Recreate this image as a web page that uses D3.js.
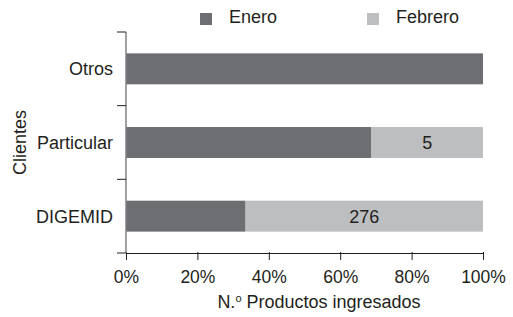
<!DOCTYPE html>
<html>
<head>
<meta charset="utf-8">
<script src="https://cdn.jsdelivr.net/npm/d3@7"></script>
<style>
  body { margin: 0; background: #fff; }
  svg { display: block; font-family: "Liberation Sans", Arial, sans-serif; }
</style>
</head>
<body>
<div id="chart"></div>
<script>
const clientes = ["Otros", "Particular", "DIGEMID"];
const series = ["Enero", "Febrero"];
const enero = [1, 11, 139];
const febrero = [0, 5, 276];
const ticks = [0, 0.2, 0.4, 0.6, 0.8, 1];

const width = 513, height = 317;
const margin = { left: 126, right: 30, top: 32, bottom: 64 };
const colors = ["#6d6e71", "#bcbec0"];

const svg = d3.select("#chart").append("svg")
  .attr("width", width)
  .attr("height", height);

const rows = clientes.map((c, i) => {
  const total = enero[i] + febrero[i];
  return { cliente: c, Enero: enero[i] / total, Febrero: febrero[i] / total, febVal: febrero[i] };
});

const stacked = d3.stack().keys(series)(rows);

const x = d3.scaleLinear()
  .domain([0, 1])
  .range([margin.left, width - margin.right]);

const y = d3.scaleBand()
  .domain(clientes)
  .range([margin.top, height - margin.bottom])
  .paddingInner(0.58)
  .paddingOuter(0.29);

// barras
svg.append("g")
  .selectAll("g")
  .data(stacked)
  .join("g")
  .attr("fill", (d, i) => colors[i])
  .selectAll("rect")
  .data((d) => d)
  .join("rect")
  .attr("x", (d) => x(d[0]))
  .attr("y", (d) => y(d.data.cliente))
  .attr("width", (d) => x(d[1]) - x(d[0]))
  .attr("height", y.bandwidth());

// etiquetas de febrero
svg.append("g")
  .selectAll("text")
  .data(stacked[1].filter((d) => d.data.febVal > 0))
  .join("text")
  .attr("x", (d) => (x(d[0]) + x(d[1])) / 2)
  .attr("y", (d) => y(d.data.cliente) + y.bandwidth() / 2)
  .attr("dy", "0.36em")
  .attr("text-anchor", "middle")
  .attr("font-size", 18)
  .attr("fill", "#231f20")
  .text((d) => d.data.febVal);

// eje x
const xAxis = svg.append("g")
  .attr("transform", `translate(0,${height - margin.bottom})`)
  .call(d3.axisBottom(x).tickValues(ticks).tickFormat(d3.format(".0%")).tickSize(8).tickSizeOuter(0).tickPadding(10));
xAxis.select(".domain").attr("stroke", "#231f20");
xAxis.selectAll(".tick line").attr("stroke", "#231f20").attr("transform", "translate(0,-1)");
xAxis.selectAll(".tick text").attr("font-size", 17.5).attr("fill", "#231f20");

// eje y
const yAxis = svg.append("g");
yAxis.append("line")
  .attr("x1", margin.left).attr("x2", margin.left)
  .attr("y1", margin.top).attr("y2", height - margin.bottom)
  .attr("stroke", "#808285").attr("stroke-width", 1.5);
yAxis.selectAll(".ytick")
  .data(d3.range(clientes.length + 1))
  .join("line")
  .attr("x1", margin.left - 9).attr("x2", margin.left)
  .attr("y1", (i) => margin.top + i * y.step())
  .attr("y2", (i) => margin.top + i * y.step())
  .attr("stroke", "#231f20");
yAxis.selectAll("text")
  .data(clientes)
  .join("text")
  .attr("x", margin.left - 13)
  .attr("y", (d) => y(d) + y.bandwidth() / 2)
  .attr("dy", "0.36em")
  .attr("text-anchor", "end")
  .attr("font-size", 18)
  .attr("fill", "#231f20")
  .text((d) => d);

// titulos
svg.append("text")
  .attr("transform", `translate(26,${(margin.top + height - margin.bottom) / 2}) rotate(-90)`)
  .attr("text-anchor", "middle")
  .attr("font-size", 18)
  .attr("fill", "#231f20")
  .text("Clientes");

const xTitle = svg.append("text")
  .attr("x", 319)
  .attr("y", 308)
  .attr("text-anchor", "middle")
  .attr("font-size", 18)
  .attr("fill", "#231f20");
xTitle.append("tspan").text("N.");
xTitle.append("tspan").attr("font-size", 11).attr("dy", -6).text("o");
xTitle.append("tspan").attr("dy", 6).text(" Productos ingresados");

// leyenda
const legendX = [200, 367];
const legend = svg.append("g")
  .selectAll("g")
  .data(series)
  .join("g")
  .attr("transform", (d, i) => `translate(${legendX[i]},13)`);
legend.append("rect")
  .attr("width", 12).attr("height", 12)
  .attr("fill", (d, i) => colors[i]);
legend.append("text")
  .attr("x", 29).attr("y", 10)
  .attr("font-size", 18)
  .attr("fill", "#231f20")
  .text((d) => d);
</script>
</body>
</html>
